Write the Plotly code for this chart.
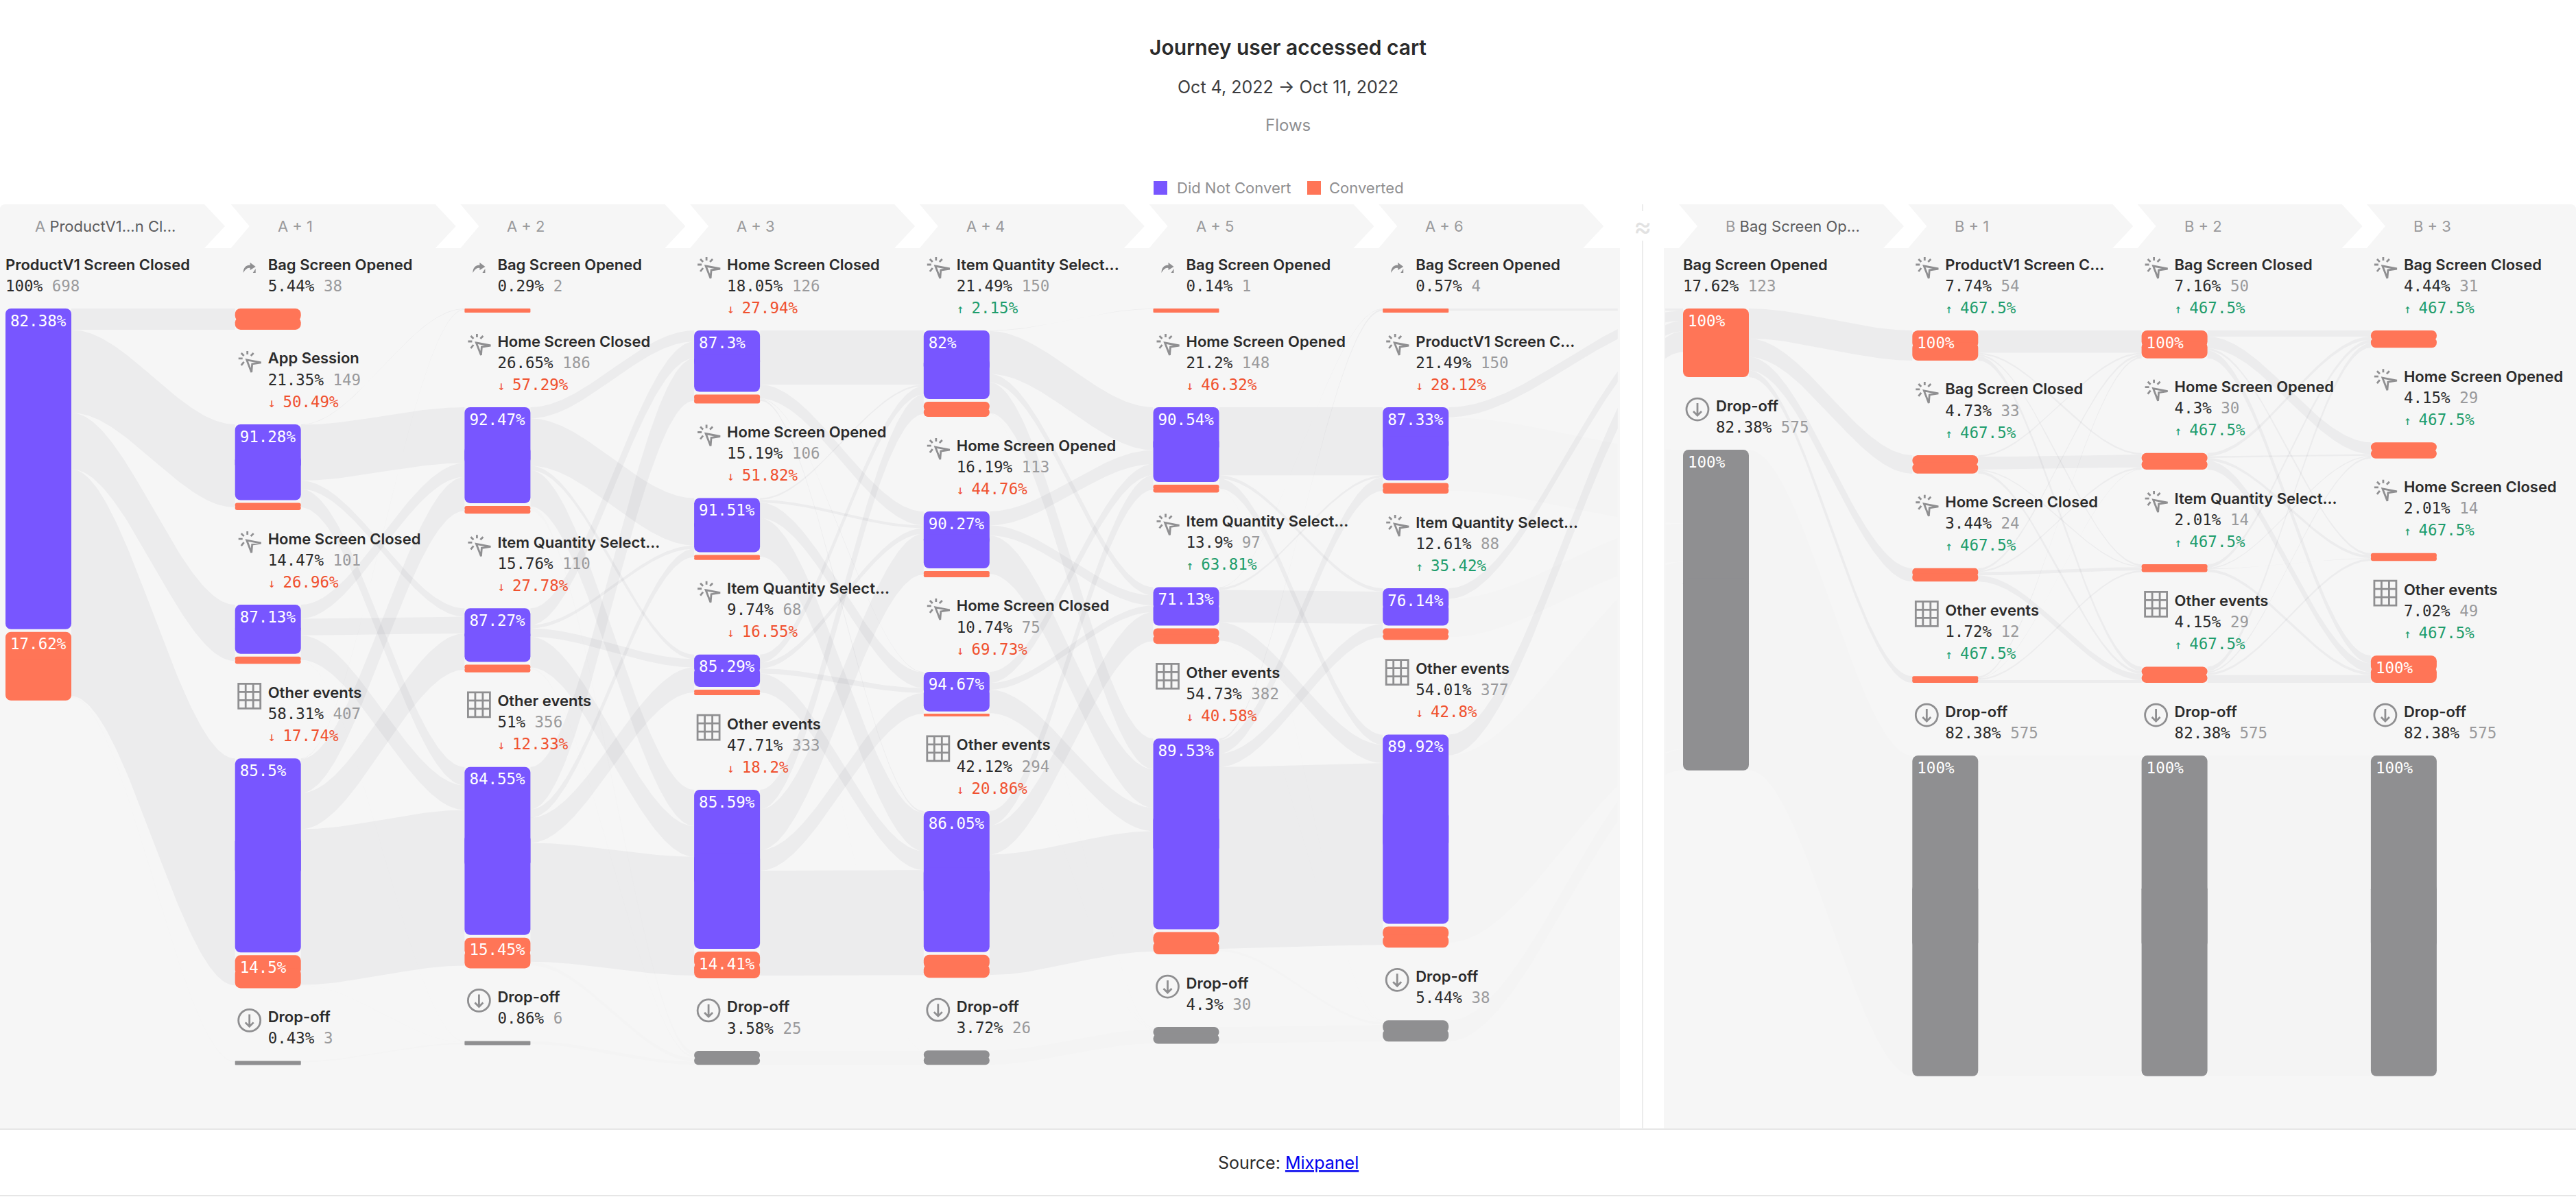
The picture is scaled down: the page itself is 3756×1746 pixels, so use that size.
"""Journey flows chart, user accessed cart (Oct 4 - Oct 11, 2022)."""

import numpy as np
import plotly.graph_objects as go

COLUMN_KEYS = ["A", "A + 1", "A + 2", "A + 3", "A + 4", "A + 5", "A + 6", "B", "B + 1", "B + 2", "B + 3"]
HEADER_NAMES = {"A": "ProductV1...n Cl...", "B": "Bag Screen Op..."}

NODE_NAMES = [
    ["ProductV1 Screen Closed"],
    ["Bag Screen Opened", "App Session", "Home Screen Closed", "Other events", "Drop-off"],
    ["Bag Screen Opened", "Home Screen Closed", "Item Quantity Select...", "Other events", "Drop-off"],
    ["Home Screen Closed", "Home Screen Opened", "Item Quantity Select...", "Other events", "Drop-off"],
    ["Item Quantity Select...", "Home Screen Opened", "Home Screen Closed", "Other events", "Drop-off"],
    ["Bag Screen Opened", "Home Screen Opened", "Item Quantity Select...", "Other events", "Drop-off"],
    ["Bag Screen Opened", "ProductV1 Screen C...", "Item Quantity Select...", "Other events", "Drop-off"],
    ["Bag Screen Opened", "Drop-off"],
    ["ProductV1 Screen C...", "Bag Screen Closed", "Home Screen Closed", "Other events", "Drop-off"],
    ["Bag Screen Closed", "Home Screen Opened", "Item Quantity Select...", "Other events", "Drop-off"],
    ["Bag Screen Closed", "Home Screen Opened", "Home Screen Closed", "Other events", "Drop-off"],
]
NODE_COUNTS = [
    [698],
    [38, 149, 101, 407, 3],
    [2, 186, 110, 356, 6],
    [126, 106, 68, 333, 25],
    [150, 113, 75, 294, 26],
    [1, 148, 97, 382, 30],
    [4, 150, 88, 377, 38],
    [123, 575],
    [54, 33, 24, 12, 575],
    [50, 30, 14, 29, 575],
    [31, 29, 14, 49, 575],
]
NODE_SHARES = [
    [100],
    [5.44, 21.35, 14.47, 58.31, 0.43],
    [0.29, 26.65, 15.76, 51, 0.86],
    [18.05, 15.19, 9.74, 47.71, 3.58],
    [21.49, 16.19, 10.74, 42.12, 3.72],
    [0.14, 21.2, 13.9, 54.73, 4.3],
    [0.57, 21.49, 12.61, 54.01, 5.44],
    [17.62, 82.38],
    [7.74, 4.73, 3.44, 1.72, 82.38],
    [7.16, 4.3, 2.01, 4.15, 82.38],
    [4.44, 4.15, 2.01, 7.02, 82.38],
]
NODE_DELTAS = [
    [None],
    [None, -50.49, -26.96, -17.74, None],
    [None, -57.29, -27.78, -12.33, None],
    [-27.94, -51.82, -16.55, -18.2, None],
    [2.15, -44.76, -69.73, -20.86, None],
    [None, -46.32, 63.81, -40.58, None],
    [None, -28.12, 35.42, -42.8, None],
    [None, None],
    [467.5, 467.5, 467.5, 467.5, None],
    [467.5, 467.5, 467.5, 467.5, None],
    [467.5, 467.5, 467.5, 467.5, None],
]
# share of each node that did not convert, 0 means the whole bar is orange
NODE_NOT_CONVERTED = [
    [82.38],
    [0, 91.28, 87.13, 85.5, 0],
    [0, 92.47, 87.27, 84.55, 0],
    [87.3, 91.51, 85.29, 85.59, 0],
    [82, 90.27, 94.67, 86.05, 0],
    [0, 90.54, 71.13, 89.53, 0],
    [0, 87.33, 76.14, 89.92, 0],
    [0, 0],
    [0, 0, 0, 0, 0],
    [0, 0, 0, 0, 0],
    [0, 0, 0, 0, 0],
]

# users moving between columns, rows = from, columns = to (estimated from ribbon widths)
FLOWS_A0 = [[38, 149, 101, 407, 3]]
FLOWS_A1 = [[0, 0, 0, 0, 0], [1, 100, 15, 33, 0], [0, 25, 30, 44, 2], [1, 61, 65, 279, 1], [0, 0, 0, 0, 3]]
FLOWS_A2 = [[0, 0, 0, 0, 0], [20, 85, 8, 65, 8], [30, 6, 15, 55, 4], [76, 15, 45, 213, 7], [0, 0, 0, 0, 6]]
FLOWS_A3 = [[97, 25, 1, 3, 0], [3, 5, 28, 69, 1], [15, 10, 9, 34, 0], [35, 73, 37, 188, 0], [0, 0, 0, 0, 25]]
FLOWS_A4 = [[1, 77, 15, 55, 2], [0, 25, 18, 69, 1], [0, 20, 12, 42, 1], [0, 26, 52, 216, 0], [0, 0, 0, 0, 26]]
FLOWS_A5 = [[0, 0, 0, 0, 0], [0, 122, 6, 18, 2], [1, 4, 58, 33, 1], [3, 24, 24, 326, 5], [0, 0, 0, 0, 30]]
FLOWS_A6_B0 = [[4, 0], [18, 132], [19, 69], [37, 336], [0, 38]]
FLOWS_B0 = [[54, 33, 24, 12, 0], [0, 0, 0, 0, 575]]
FLOWS_B1 = [[40, 3, 3, 8, 0], [3, 23, 2, 5, 0], [4, 3, 6, 11, 0], [3, 1, 3, 5, 0], [0, 0, 0, 0, 575]]
FLOWS_B2 = [[11, 21, 4, 14, 0], [6, 3, 5, 16, 0], [6, 2, 1, 5, 0], [8, 3, 4, 14, 0], [0, 0, 0, 0, 575]]
FLOW_TABLES = [FLOWS_A0, FLOWS_A1, FLOWS_A2, FLOWS_A3, FLOWS_A4, FLOWS_A5, FLOWS_A6_B0, FLOWS_B0, FLOWS_B1, FLOWS_B2]

PURPLE = "#7856FF"
ORANGE = "#FF7557"
GREY = "#8F8F91"
PANEL = "#F6F6F6"
INK = "#2B2B2B"
MUTED = "#9A9A9C"
RED = "#F0512F"
GREEN = "#1F9D6C"
SANS = "Inter"
MONO = "DejaVu Sans Mono"

PX_PER_USER = 0.8135
BAR_WIDTH = 96
BAR_GAP = 4
MIN_BAR = 6
LABEL_MIN = 36
FIRST_TITLE_Y = 386
LINE_HEIGHT = 32
TITLE_TO_NEXT = 42
PANEL_TOP, PANEL_BOTTOM = 362, 1647
PANEL_A_END, PANEL_B_START = 2362, 2426


def column_left(col):
    if col <= 6:
        return 8 + 334.7 * col
    return 2454 + 334.3 * (col - 7)


def fmt(value):
    return f"{round(value, 2):g}%"


def layout_column(col):
    """Stack label blocks and bars from the top of the panel, as the journey view does."""
    placed = []
    y = FIRST_TITLE_Y
    for i, count in enumerate(NODE_COUNTS[col]):
        title_y = y
        lines = 3 if NODE_DELTAS[col][i] is not None else 2
        top = y + LINE_HEIGHT * lines
        nc_share = NODE_NOT_CONVERTED[col][i]
        if nc_share > 0:
            nc_h = count * nc_share / 100 * PX_PER_USER
            conv_h = count * (100 - nc_share) / 100 * PX_PER_USER
            bottom = top + nc_h + BAR_GAP + conv_h
        else:
            nc_h = 0
            conv_h = max(count * PX_PER_USER, MIN_BAR)
            bottom = top + conv_h
        placed.append(dict(title_y=title_y, top=top, bottom=bottom, nc_h=nc_h, conv_h=conv_h))
        y = bottom + TITLE_TO_NEXT
    return placed


PLACED = [layout_column(c) for c in range(len(COLUMN_KEYS))]


def ribbon_xy(x0, x1, y0a, y0b, y1a, y1b):
    t = np.linspace(0, 1, 80)
    ease = t * t * (3 - 2 * t)
    x = x0 + (x1 - x0) * t
    top = y0a + (y1a - y0a) * ease
    low = y0b + (y1b - y0b) * ease
    # ribbons crossing the break between the two journeys are cut at the panel edges
    left = x <= PANEL_A_END
    right = x >= PANEL_B_START
    xs, ys = [], []
    for keep in (left, right):
        if keep.any():
            xs += list(x[keep]) + list(x[keep][::-1]) + [None]
            ys += list(top[keep]) + list(low[keep][::-1]) + [None]
    return xs, ys


fig = go.Figure()

# flows
for col, table in enumerate(FLOW_TABLES):
    src_offset = [n["top"] for n in PLACED[col]]
    dst_offset = [n["top"] for n in PLACED[col + 1]]
    for i, row in enumerate(table):
        for j, users in enumerate(row):
            if users == 0:
                continue
            h = users * PX_PER_USER
            xs, ys = ribbon_xy(column_left(col) + BAR_WIDTH, column_left(col + 1),
                               src_offset[i], src_offset[i] + h, dst_offset[j], dst_offset[j] + h)
            src_offset[i] += h
            dst_offset[j] += h
            # anything heading into a drop-off is barely visible
            faint = NODE_NAMES[col + 1][j] == "Drop-off"
            fig.add_trace(go.Scatter(
                x=xs, y=ys, mode="lines", fill="toself", line=dict(width=0),
                fillcolor="rgba(40,40,60,0.007)" if faint else "rgba(40,40,60,0.046)",
                hoverinfo="skip", showlegend=False,
            ))

# bars
segments = {PURPLE: [], ORANGE: [], GREY: []}
bar_label_x, bar_label_y, bar_label_text = [], [], []
for col, key in enumerate(COLUMN_KEYS):
    for i, node in enumerate(PLACED[col]):
        center = column_left(col) + BAR_WIDTH / 2
        label_x = column_left(col) + 7
        if NODE_NAMES[col][i] == "Drop-off":
            segments[GREY].append((center, node["top"], node["bottom"]))
            if node["conv_h"] >= LABEL_MIN:
                bar_label_x.append(label_x)
                bar_label_y.append(node["top"] + 20)
                bar_label_text.append("100%")
            continue
        nc_share = NODE_NOT_CONVERTED[col][i]
        if nc_share > 0:
            split = node["top"] + node["nc_h"]
            segments[PURPLE].append((center, node["top"], split))
            segments[ORANGE].append((center, split + BAR_GAP, node["bottom"]))
            bar_label_x.append(label_x)
            bar_label_y.append(node["top"] + 20)
            bar_label_text.append(fmt(nc_share))
            if node["conv_h"] >= LABEL_MIN:
                bar_label_x.append(label_x)
                bar_label_y.append(split + BAR_GAP + 20)
                bar_label_text.append(fmt(100 - nc_share))
        else:
            segments[ORANGE].append((center, node["top"], node["bottom"]))
            if node["conv_h"] >= LABEL_MIN:
                bar_label_x.append(label_x)
                bar_label_y.append(node["top"] + 20)
                bar_label_text.append("100%")

for color, segs in segments.items():
    centers = [s[0] for s in segs]
    tops = np.array([s[1] for s in segs])
    bottoms = np.array([s[2] for s in segs])
    heights = bottoms - tops
    # plotly only rounds the far end of a bar, so each one is built from two overlapping halves
    fig.add_trace(go.Bar(x=centers, base=tops, y=heights * 0.6, width=BAR_WIDTH, marker=dict(
        color=color, cornerradius=8, line=dict(width=0)), hoverinfo="skip", showlegend=False))
    fig.add_trace(go.Bar(x=centers, base=bottoms, y=-heights * 0.6, width=BAR_WIDTH, marker=dict(
        color=color, cornerradius=8, line=dict(width=0)), hoverinfo="skip", showlegend=False))

# node labels
title_x, title_y, title_text = [], [], []
sub_x, sub_y, sub_text = [], [], []
delta_x, delta_y, delta_text, delta_color = [], [], [], []
click_icons, grid_icons, drop_icons, redirect_icons = [], [], [], []
for col, key in enumerate(COLUMN_KEYS):
    first = key in ("A", "B")
    for i, node in enumerate(PLACED[col]):
        name = NODE_NAMES[col][i]
        has_icon = not first or name == "Drop-off"
        x = column_left(col) + (48 if has_icon else 0)
        y = node["title_y"]
        title_x.append(x)
        title_y.append(y + 2)
        title_text.append(name)
        sub_x.append(x)
        sub_y.append(y + LINE_HEIGHT + 1)
        sub_text.append(f"{fmt(NODE_SHARES[col][i])} <span style=\"color:{MUTED}\">{NODE_COUNTS[col][i]}</span>")
        delta = NODE_DELTAS[col][i]
        if delta is not None:
            arrow = "↑" if delta > 0 else "↓"
            delta_x.append(x)
            delta_y.append(y + 2 * LINE_HEIGHT + 1)
            delta_text.append(f"<span style=\"font-size:18px\">{arrow} </span>{fmt(abs(delta))}")
            delta_color.append(GREEN if delta > 0 else RED)
        if has_icon:
            cx, cy = column_left(col) + 21, y + 5
            if name == "Drop-off":
                drop_icons.append((cx, cy))
            elif name == "Other events":
                grid_icons.append((cx, cy))
            elif name == "Bag Screen Opened":
                redirect_icons.append((cx, cy))
            else:
                click_icons.append((cx, cy))

fig.add_trace(go.Scatter(x=title_x, y=title_y, text=title_text, mode="text", textposition="middle right",
                         textfont=dict(family=SANS, size=22, color=INK, weight=600),
                         hoverinfo="skip", showlegend=False))
fig.add_trace(go.Scatter(x=sub_x, y=sub_y, text=sub_text, mode="text", textposition="middle right",
                         textfont=dict(family=MONO, size=22.5, color=INK),
                         hoverinfo="skip", showlegend=False))
fig.add_trace(go.Scatter(x=delta_x, y=delta_y, text=delta_text, mode="text", textposition="middle right",
                         textfont=dict(family=MONO, size=22.5, color=delta_color),
                         hoverinfo="skip", showlegend=False))
fig.add_trace(go.Scatter(x=bar_label_x, y=bar_label_y, text=bar_label_text, mode="text",
                         textposition="middle right", textfont=dict(family=MONO, size=22.5, color="white"),
                         hoverinfo="skip", showlegend=False))


# icons, one path per kind
def click_path(cx, cy):
    pts = [(-4, -3), (17, 1), (4, 3), (3, 15)]
    arrow = "M" + " L".join(f"{cx + a},{cy + b}" for a, b in pts) + " Z "
    rays = [((-3, -16), (-3, -11)), ((6, -13), (2, -9)), ((-12, -13), (-8, -9)),
            ((-16, -5), (-10, -5)), ((-12, 5), (-8, 0))]
    return arrow + " ".join(f"M{cx + a[0]},{cy + a[1]} L{cx + b[0]},{cy + b[1]}" for a, b in rays)


def grid_path(cx, cy):
    rx, ry = 16, 18
    parts = [f"M{cx - rx},{cy - ry} H{cx + rx} V{cy + ry} H{cx - rx} Z"]
    for k in (-5.5, 5.5):
        parts.append(f"M{cx + k},{cy - ry} V{cy + ry}")
    for k in (-6, 6):
        parts.append(f"M{cx - rx},{cy + k} H{cx + rx}")
    return " ".join(parts)


def drop_path(cx, cy):
    r = 16
    k = r * 0.5523
    circle = (f"M{cx - r},{cy} C{cx - r},{cy - k} {cx - k},{cy - r} {cx},{cy - r}"
              f" C{cx + k},{cy - r} {cx + r},{cy - k} {cx + r},{cy}"
              f" C{cx + r},{cy + k} {cx + k},{cy + r} {cx},{cy + r}"
              f" C{cx - k},{cy + r} {cx - r},{cy + k} {cx - r},{cy} Z")
    return circle + f" M{cx},{cy - 9} V{cy + 9} M{cx - 6},{cy + 3} L{cx},{cy + 9} L{cx + 6},{cy + 3}"


def redirect_path(cx, cy):
    return (f"M{cx - 9},{cy + 7} C{cx - 9},{cy - 2} {cx - 3},{cy - 5} {cx + 1},{cy - 4} L{cx + 1},{cy - 8}"
            f" L{cx + 9},{cy - 2} L{cx + 1},{cy + 3} L{cx + 1},{cy} C{cx - 3},{cy - 1} {cx - 6},{cy + 2} {cx - 9},{cy + 7} Z"
            f" M{cx + 5},{cy + 7} H{cx + 9} V{cy + 1} Z")


shapes = []
for make_path, places in ((click_path, click_icons), (grid_path, grid_icons), (drop_path, drop_icons)):
    shapes.append(dict(type="path", xref="x", yref="y", layer="above",
                       path=" ".join(make_path(cx, cy) for cx, cy in places),
                       line=dict(color=GREY, width=2.8)))
shapes.append(dict(type="path", xref="x", yref="y", layer="above", fillcolor=GREY, line=dict(width=0),
                   path=" ".join(redirect_path(cx, cy) for cx, cy in redirect_icons)))


# headers, panels and divider
def chevron(x0, first=False, last=False):
    y0, y1, ym = 298, PANEL_TOP, 330
    if first:
        left = f"M0,{y1} L0,{y0 + 8} Q0,{y0} 8,{y0}"
        x0 = 0
    else:
        left = f"M{x0},{y1} L{x0 + 27},{ym} L{x0},{y0}"
    if last:
        right = f"L3748,{y0} Q3756,{y0} 3756,{y0 + 8} L3756,{y1}"
    else:
        right = f"L{x0 + 298},{y0} L{x0 + 328},{ym} L{x0 + 298},{y1}"
    return f"{left} {right} Z"


annotations = []
for col, key in enumerate(COLUMN_KEYS):
    x0 = column_left(col) - 6
    shapes.append(dict(type="path", xref="x", yref="y", layer="below", line=dict(width=0), fillcolor=PANEL,
                       path=chevron(x0, first=key == "A", last=key == "B + 3")))
    header = f"<span style=\"color:{MUTED}\">{key}</span>"
    if key in HEADER_NAMES:
        header += f" <span style=\"color:#5c5c5e\">{HEADER_NAMES[key]}</span>"
    annotations.append(dict(x=column_left(col) + 60 if key != "A" else 49, y=330, text=header, showarrow=False,
                            xanchor="left", yanchor="middle", font=dict(family=SANS, size=22)))

shapes += [
    dict(type="rect", xref="x", yref="y", layer="below", x0=0, x1=PANEL_A_END, y0=PANEL_TOP, y1=PANEL_BOTTOM,
         fillcolor=PANEL, line=dict(width=0)),
    dict(type="rect", xref="x", yref="y", layer="below", x0=PANEL_B_START, x1=3756, y0=PANEL_TOP, y1=PANEL_BOTTOM,
         fillcolor=PANEL, line=dict(width=0)),
    dict(type="line", xref="x", yref="y", x0=0, x1=3756, y0=PANEL_BOTTOM, y1=PANEL_BOTTOM,
         line=dict(color="#E6E6E6", width=2)),
    dict(type="line", xref="x", yref="y", x0=0, x1=3756, y0=1744, y1=1744, line=dict(color="#E6E6E6", width=2)),
    dict(type="line", xref="x", yref="y", x0=2395, x1=2395, y0=298, y1=308, line=dict(color="#ECECEC", width=2)),
    dict(type="line", xref="x", yref="y", x0=2395, x1=2395, y0=351, y1=PANEL_BOTTOM,
         line=dict(color="#ECECEC", width=2)),
    dict(type="rect", xref="x", yref="y", x0=1682, x1=1702, y0=264, y1=284, fillcolor=PURPLE, line=dict(width=0)),
    dict(type="rect", xref="x", yref="y", x0=1906, x1=1926, y0=264, y1=284, fillcolor=ORANGE, line=dict(width=0)),
]

annotations += [
    dict(x=1878, y=69, text="Journey user accessed cart", showarrow=False,
         font=dict(family=SANS, size=30, color=INK, weight=600)),
    dict(x=1878, y=127, text="Oct 4, 2022 → Oct 11, 2022", showarrow=False,
         font=dict(family=SANS, size=25, color="#3c3c3e")),
    dict(x=1878, y=182, text="Flows", showarrow=False, font=dict(family=SANS, size=24, color=GREY)),
    dict(x=1714, y=274, text="Did Not Convert", showarrow=False, xanchor="left",
         font=dict(family=SANS, size=22, color=GREY)),
    dict(x=1936, y=274, text="Converted", showarrow=False, xanchor="left",
         font=dict(family=SANS, size=22, color=GREY)),
    dict(x=2395, y=329, text="≈", showarrow=False, font=dict(family=SANS, size=40, color="#E2E2E2")),
    dict(x=1878, y=1696, showarrow=False, font=dict(family=SANS, size=25, color=INK),
         text="Source: <span style=\"color:#0000EE;text-decoration:underline\">Mixpanel</span>"),
]

fig.update_layout(
    width=3756,
    height=1746,
    margin=dict(l=0, r=0, t=0, b=0),
    paper_bgcolor="white",
    plot_bgcolor="white",
    barmode="overlay",
    showlegend=False,
    xaxis=dict(range=[0, 3756], visible=False, fixedrange=True),
    yaxis=dict(range=[1746, 0], visible=False, fixedrange=True),
    shapes=shapes,
    annotations=annotations,
)

fig.write_html("out.html", config=dict(displayModeBar=False),
               post_script="document.body.style.margin='0';document.body.style.overflow='hidden';")
